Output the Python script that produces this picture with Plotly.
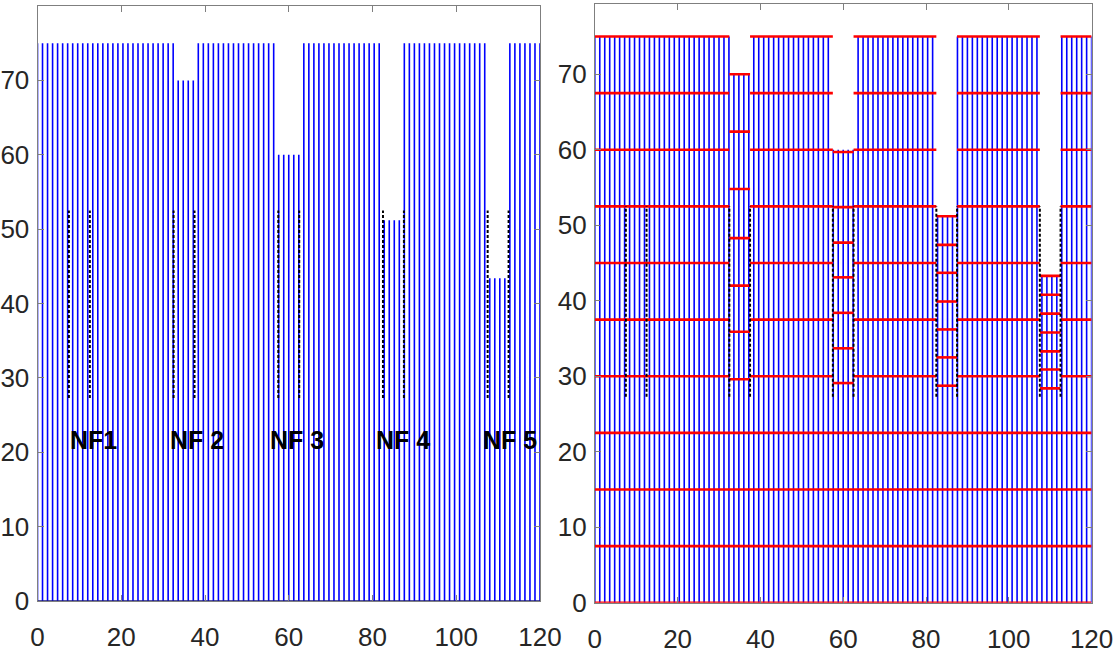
import plotly.graph_objects as go

# ---------------- data ----------------
blue_x = [0, 1.2, 2.4, 3.6, 4.8, 6, 7.2, 8.4, 9.6, 10.8, 12, 13.2, 14.4, 15.6, 16.8, 18, 19.2,
          20.4, 21.6, 22.8, 24, 25.2, 26.4, 27.6, 28.8, 30, 31.2, 32.4, 33.6, 34.8, 36, 37.2,
          38.4, 39.6, 40.8, 42, 43.2, 44.4, 45.6, 46.8, 48, 49.2, 50.4, 51.6, 52.8, 54, 55.2,
          56.4, 57.6, 58.8, 60, 61.2, 62.4, 63.6, 64.8, 66, 67.2, 68.4, 69.6, 70.8, 72, 73.2,
          74.4, 75.6, 76.8, 78, 79.2, 80.4, 81.6, 82.8, 84, 85.2, 86.4, 87.6, 88.8, 90, 91.2,
          92.4, 93.6, 94.8, 96, 97.2, 98.4, 99.6, 100.8, 102, 103.2, 104.4, 105.6, 106.8, 108,
          109.2, 110.4, 111.6, 112.8, 114, 115.2, 116.4, 117.6, 118.8, 120]
full_height = 75

notch_left = [32.5, 57.5, 82.5, 107.5]
notch_right = [37.5, 62.5, 87.5, 112.5]
notch_height = [70, 60, 51.2, 43.4]

nf_left = [7.5, 32.5, 57.5, 82.5, 107.5]
nf_right = [12.5, 37.5, 62.5, 87.5, 112.5]
nf_dash_bottom = 27.3
nf_dash_top = 52.5
nf_labels = ["NF1", "NF 2", "NF 3", "NF 4", "NF 5"]
nf_label_x = [7.3, 31.1, 55.0, 80.3, 105.8]
nf_label_y = 21.7

red_full_levels = [0, 7.5, 15, 22.5]
red_broken_levels = [30, 37.5, 45, 52.5, 60, 67.5, 75]
notch_red_levels = [
    [70, 62.4, 54.8, 48.3, 42.0, 35.9, 29.6],
    [59.7, 52.4, 47.7, 43.1, 38.4, 33.7, 29.1],
    [51.2, 47.4, 43.7, 39.9, 36.2, 32.5, 28.75],
    [43.3, 40.8, 38.3, 35.8, 33.3, 30.9, 28.4],
]

x_ticks = [0, 20, 40, 60, 80, 100, 120]
y_ticks = [0, 10, 20, 30, 40, 50, 60, 70]

# ---------------- derived geometry ----------------
def top_of(x):
    for a, b, h in zip(notch_left, notch_right, notch_height):
        if a <= x <= b:
            return h
    return full_height

vx, vy = [], []
for x in blue_x:
    vx += [x, x, None]
    vy += [0, top_of(x), None]

dx, dy = [], []
for a, b in zip(nf_left, nf_right):
    for x in (a, b):
        dx += [x, x, None]
        dy += [nf_dash_bottom, nf_dash_top, None]

rx, ry = [], []
for lv in red_full_levels:
    rx += [blue_x[0], blue_x[-1], None]
    ry += [lv, lv, None]
gaps_start = [blue_x[0]] + notch_right
gaps_end = notch_left + [blue_x[-1]]
for lv in red_broken_levels:
    for s, e in zip(gaps_start, gaps_end):
        rx += [s, e, None]
        ry += [lv, lv, None]
for a, b, levels in zip(notch_left, notch_right, notch_red_levels):
    for lv in levels:
        rx += [a, b, None]
        ry += [lv, lv, None]

BLUE = "#0000ff"
fig = go.Figure()

# left chart
fig.add_trace(go.Scatter(x=vx, y=vy, mode="lines", line=dict(color=BLUE, width=1.6),
                         xaxis="x", yaxis="y", hoverinfo="skip", showlegend=False))
fig.add_trace(go.Scatter(x=[blue_x[0], blue_x[-1]], y=[0, 0], mode="lines",
                         line=dict(color="#1a1a80", width=1.5),
                         xaxis="x", yaxis="y", hoverinfo="skip", showlegend=False))
fig.add_trace(go.Scatter(x=dx, y=dy, mode="lines", line=dict(color="black", width=2, dash="3px,2px"),
                         xaxis="x", yaxis="y", hoverinfo="skip", showlegend=False))

# right chart
fig.add_trace(go.Scatter(x=vx, y=vy, mode="lines", line=dict(color=BLUE, width=1.6),
                         xaxis="x2", yaxis="y2", hoverinfo="skip", showlegend=False))
fig.add_trace(go.Scatter(x=rx, y=ry, mode="lines", line=dict(color="#ff0000", width=2.6),
                         xaxis="x2", yaxis="y2", hoverinfo="skip", showlegend=False))
fig.add_trace(go.Scatter(x=dx, y=dy, mode="lines", line=dict(color="black", width=2, dash="3px,2px"),
                         xaxis="x2", yaxis="y2", hoverinfo="skip", showlegend=False))

for txt, x in zip(nf_labels, nf_label_x):
    fig.add_annotation(x=x, y=nf_label_y, xref="x", yref="y", text=txt, showarrow=False,
                       xanchor="left", yanchor="middle",
                       font=dict(family="Liberation Sans, Arial", size=25, color="black", weight="bold"))

W, H = 1115, 655
tick_font = dict(family="Liberation Sans, Arial", size=26, color="#262626")
axis_common = dict(showgrid=False, zeroline=False, showline=True, linecolor="#7f7f7f", linewidth=1,
                   mirror="ticks", ticks="inside", ticklen=6, tickcolor="#7f7f7f",
                   tickfont=tick_font)

fig.update_layout(
    width=W, height=H, margin=dict(l=0, r=0, t=0, b=0), autosize=False,
    paper_bgcolor="white", plot_bgcolor="white",
    xaxis=dict(domain=[37.5 / W, 540 / W], range=[0, 120], tickvals=x_ticks, anchor="y",
               ticklabelstandoff=13, automargin=False, **axis_common),
    yaxis=dict(domain=[1 - 601 / H, 1 - 6 / H], range=[0, 80], tickvals=y_ticks, anchor="x",
               ticklabelstandoff=2, automargin=False, **axis_common),
    xaxis2=dict(domain=[594.8 / W, 1091.6 / W], range=[0, 120], tickvals=x_ticks, anchor="y2",
                ticklabelstandoff=13, automargin=False, **axis_common),
    yaxis2=dict(domain=[1 - 602.8 / H, 1 - 4 / H], range=[0, 79.3], tickvals=y_ticks, anchor="x2",
                ticklabelstandoff=2, automargin=False, **axis_common),
)

fig.write_html("out.html")
